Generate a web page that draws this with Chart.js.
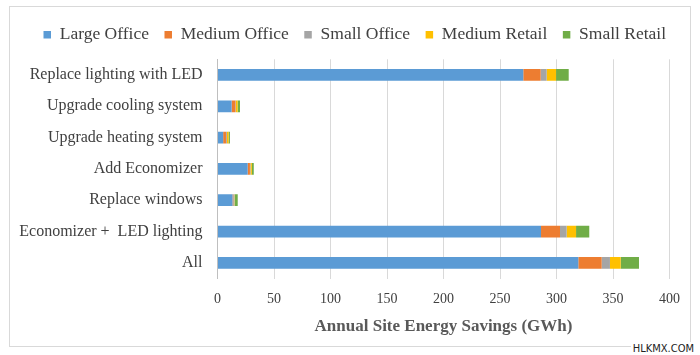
<!DOCTYPE html>
<html>
<head>
<meta charset="utf-8">
<script src="https://cdn.jsdelivr.net/npm/chart.js@4"></script>
<style>
  html, body { margin: 0; padding: 0; background: #fff; }
  #wrap { position: relative; width: 700px; height: 355px; }
  #frame { position: absolute; left: 9px; top: 6px; width: 682px; height: 341px; border: 1px solid #d9d9d9; box-sizing: border-box; }
  #c { position: absolute; left: 0; top: 0; }
  #wm { position: absolute; right: 4px; bottom: 0px; font: 11px "Liberation Sans Narrow", "DejaVu Sans Condensed", sans-serif; color: #222; background: #fff; padding: 0 2px; }
</style>
</head>
<body>
<div id="wrap">
  <div id="frame"></div>
  <canvas id="c" width="700" height="355"></canvas>
  <div id="wm">HLKMX.COM</div>
</div>
<script>
const categories = ["Replace lighting with LED", "Upgrade cooling system", "Upgrade heating system", "Add Economizer", "Replace windows", "Economizer +  LED lighting", "All"];
const seriesNames = ["Large Office", "Medium Office", "Small Office", "Medium Retail", "Small Retail"];
const largeOffice  = [270.6, 12.5, 5.0, 26.7, 13.3, 286.3, 319.3];
const mediumOffice = [15.4, 3.3, 2.5, 2.0, 0.6, 16.8, 20.7];
const smallOffice  = [5.3, 0.5, 0.8, 0.5, 1.0, 5.9, 7.3];
const mediumRetail = [8.3, 1.5, 1.5, 1.2, 0.3, 8.3, 9.5];
const smallRetail  = [11.2, 2.1, 1.2, 1.7, 2.7, 11.7, 16.2];
const xTicks = [0, 50, 100, 150, 200, 250, 300, 350, 400];
const colors = ["#5B9BD5", "#ED7D31", "#A5A5A5", "#FFC000", "#70AD47"];

const allSeries = [largeOffice, mediumOffice, smallOffice, mediumRetail, smallRetail];
const datasets = allSeries.map((d, i) => ({
  label: seriesNames[i],
  data: d,
  backgroundColor: colors[i],
  borderWidth: 0,
  barPercentage: 0.75,
  categoryPercentage: 0.5
}));

const serif = "'Liberation Serif', 'Times New Roman', serif";

// keep the legend on one row, with a fixed height, placed where the reference has it
const legendFix = {
  id: 'legendFix',
  beforeInit(chart) {
    const lg = chart.legend;
    if (!lg) return;
    const orig = lg.fit.bind(lg);
    lg.fit = function () {
      const mw = this.maxWidth;
      this.maxWidth = 2000;
      orig();
      this.maxWidth = mw;
      this.width = mw;
      this.height = 48.7;
    };
  },
  afterLayout(chart) {
    const lg = chart.legend;
    if (!lg) return;
    lg.left = 28;
    lg.right = 1000;
    lg.width = lg.right - lg.left;
  }
};

new Chart(document.getElementById('c'), {
  type: 'bar',
  data: { labels: categories, datasets },
  plugins: [legendFix],
  options: {
    indexAxis: 'y',
    responsive: false,
    animation: false,
    layout: { padding: { left: 10, right: 30.5, top: 10.6, bottom: 18.6 } },
    plugins: {
      tooltip: { enabled: false },
      legend: {
        position: 'top',
        align: 'start',
        labels: {
          font: { family: serif, size: 17.5 },
          color: '#404040',
          boxWidth: 7.5,
          boxHeight: 7.5,
          padding: 15.5
        }
      }
    },
    scales: {
      x: {
        stacked: true,
        min: 0, max: 400,
        afterBuildTicks: (s) => { s.ticks = xTicks.map(v => ({ value: v })); },
        grid: { color: '#d9d9d9', drawTicks: false },
        border: { display: false },
        ticks: { font: { family: serif, size: 14, lineHeight: 1.0 }, color: '#404040', padding: 13.5 },
        title: {
          display: true,
          text: 'Annual Site Energy Savings (GWh)',
          font: { family: serif, size: 17, weight: 'bold' },
          color: '#595959',
          padding: { top: -3.5, bottom: 0 }
        }
      },
      y: {
        stacked: true,
        afterFit: (s) => { s.width = 207.5; },
        grid: { display: false, drawTicks: false },
        border: { display: true, color: '#bfbfbf' },
        ticks: { font: { family: serif, size: 16 }, color: '#404040', padding: 15 }
      }
    }
  }
});
</script>
</body>
</html>
